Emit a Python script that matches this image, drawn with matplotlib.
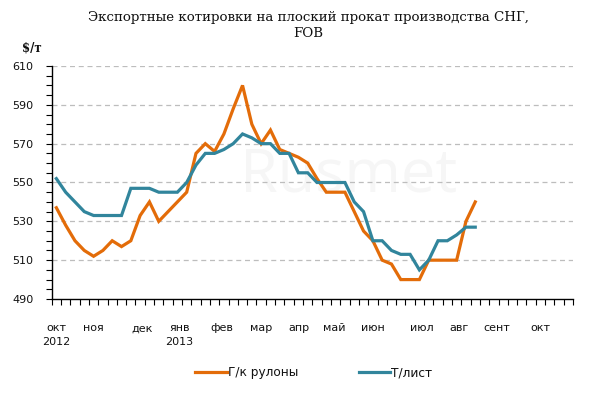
import matplotlib
matplotlib.use("Agg")
import matplotlib.pyplot as plt
from matplotlib.ticker import MultipleLocator, FixedLocator, NullFormatter

# ---------------- data ----------------
title = "Экспортные котировки на плоский прокат производства СНГ,\nFOB"
unit_label = "$/т"
series_names = ["Г/к рулоны", "Т/лист"]

hot_rolled = [537, 528, 520, 515, 512, 515, 520, 517, 520, 533,
              540, 530, 535, 540, 545, 565, 570, 566, 575, 588,
              600, 580, 570, 577, 567, 565, 563, 560, 552, 545,
              545, 545, 535, 525, 520, 510, 508, 500, 500, 500,
              510, 510, 510, 510, 530, 540]
plate = [552, 545, 540, 535, 533, 533, 533, 533, 547, 547,
         547, 545, 545, 545, 550, 559, 565, 565, 567, 570,
         575, 573, 570, 570, 565, 565, 555, 555, 550, 550,
         550, 550, 540, 535, 520, 520, 515, 513, 513, 505,
         510, 520, 520, 523, 527, 527]

n_categories = 56
month_labels = ["окт\n2012", "ноя", "дек", "янв\n2013", "фев", "мар", "апр",
                "май", "июн", "июл", "авг", "сент", "окт"]
month_pos = [0, 4, 9.2, 13.2, 17.8, 22, 26.1, 29.9, 34, 39.3, 43.3, 47.3, 52]

y_ticks = [490, 510, 530, 550, 570, 590, 610]
colors = ["#E36C09", "#31859C"]

# ---------------- figure ----------------
W, H = 600, 398
fig = plt.figure(figsize=(W / 100, H / 100), dpi=100)
ax = fig.add_axes([51.7 / W, (H - 299) / H, (573 - 51.7) / W, (299 - 66) / H])

# watermark
ax.text(0.57, 0.53, "Rusmet", transform=ax.transAxes, fontsize=44,
        family="Open Sans", color="#F6F6F6", ha="center", va="center", zorder=0)

ax.plot(list(range(len(hot_rolled))), hot_rolled, color=colors[0], lw=2.3,
        solid_joinstyle="miter", label=series_names[0], zorder=3)
ax.plot(list(range(len(plate))), plate, color=colors[1], lw=2.3,
        solid_joinstyle="miter", label=series_names[1], zorder=3)

ax.set_xlim(-0.5, n_categories - 0.5)
ax.set_ylim(y_ticks[0], y_ticks[-1])

# grid
for v in y_ticks[1:]:
    ax.axhline(v, color="#BDBDBD", lw=0.9, ls=(0, (4, 3)), zorder=1)

# spines
for s in ["top", "right"]:
    ax.spines[s].set_visible(False)
for s in ["left", "bottom"]:
    ax.spines[s].set_color("black")
    ax.spines[s].set_linewidth(1.0)

# y ticks
ax.yaxis.set_major_locator(FixedLocator(y_ticks))
ax.yaxis.set_minor_locator(MultipleLocator(5))
ax.tick_params(axis="y", which="both", direction="out", length=4, width=0.8,
               color="black", labelsize=8, pad=9, labelcolor="#111111")

# x ticks: category boundaries
ax.xaxis.set_major_locator(FixedLocator([i - 0.5 for i in range(n_categories + 1)]))
ax.xaxis.set_major_formatter(NullFormatter())
ax.tick_params(axis="x", which="major", direction="out", length=4, width=0.8,
               color="black")
for lbl, pos in zip(month_labels, month_pos):
    ax.text(pos, -0.105, lbl, transform=ax.get_xaxis_transform(), ha="center",
            va="top", fontsize=8, color="#111111", linespacing=1.45)

# title and unit
t = fig.text(308 / W, 1 - 11 / H, title, ha="center", va="top",
             family="DejaVu Serif", fontsize=10, color="#111111", linespacing=1.3)
fig.canvas.draw()
bb = t.get_window_extent()
t.set_fontsize(10 * 445 / bb.width)
fig.text(22 / W, 1 - 48 / H, unit_label, ha="left", va="center",
         family="DejaVu Serif", fontsize=8.5, fontweight="bold", color="#111111")

# legend
leg = fig.legend(loc="center", bbox_to_anchor=(314 / W, 1 - 372.5 / H), ncol=2,
                 frameon=False, fontsize=8.7, handlelength=2.6, handletextpad=0.1,
                 columnspacing=5.0)
for txt in leg.get_texts():
    txt.set_color("#111111")

fig.savefig("out.png", dpi=100)
